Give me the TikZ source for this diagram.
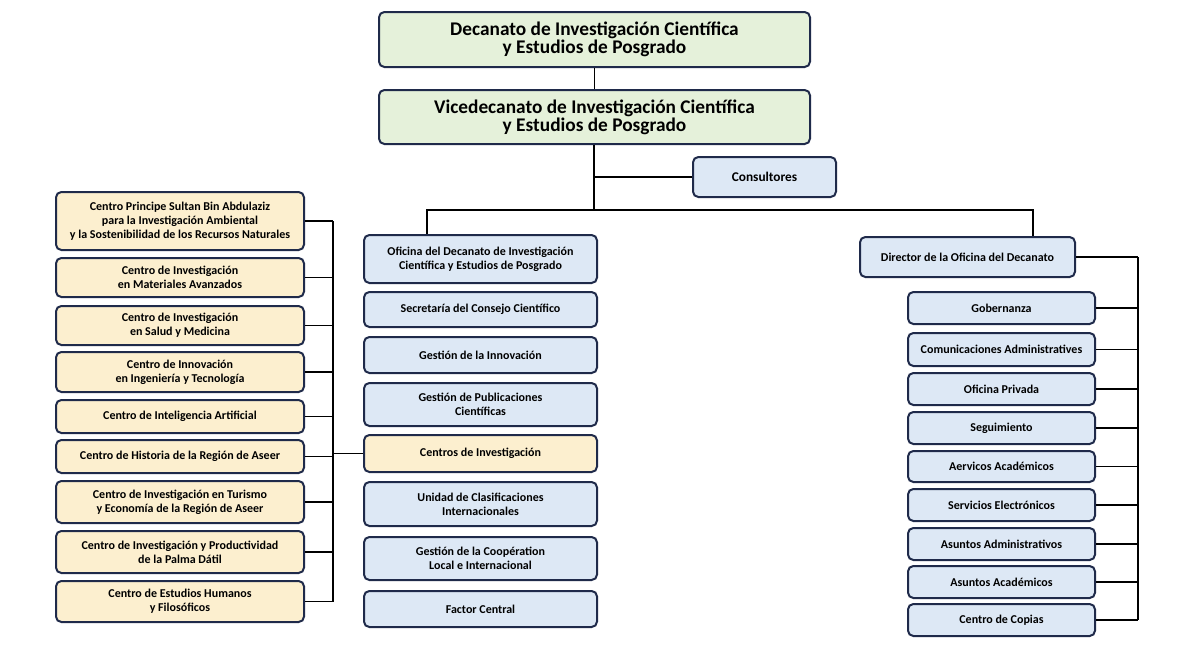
\documentclass[tikz,border=0pt]{standalone}
\usepackage{fontspec}
\setmainfont{Carlito}
\definecolor{bd}{HTML}{1F2A4A}
\definecolor{gr}{HTML}{E5F1DA}
\definecolor{bl}{HTML}{DDE8F5}
\definecolor{ye}{HTML}{FCEFCF}
\newcommand{\bx}[7]{%
  \pgfmathsetmacro{\cx}{(#2+#4)/2}\pgfmathsetmacro{\cy}{-(#3+#5)/2}%
  \pgfmathsetmacro{\ww}{(#4-#2)*0.75}\pgfmathsetmacro{\hh}{(#5-#3)*0.75}%
  \node[box,fill=#6,minimum width=\ww pt,minimum height=\hh pt] (#1) at (\cx,\cy) {#7};}
\begin{document}
\begin{tikzpicture}[x=0.75pt,y=0.75pt,
  box/.style={draw=bd,line width=1.5pt,rounded corners=4pt,inner sep=0pt,align=center,font=\bfseries\fontsize{9}{10.5}\selectfont,text=black},
  big/.style={font=\bfseries\fontsize{14.5}{17}\selectfont},
  ln/.style={line width=1.3pt,black}]
\useasboundingbox (0,0) rectangle (1200,-668);
\bx{dec}{379}{12}{810}{67}{gr}{\fontsize{14.5}{17}\selectfont Decanato de Investigación Científica\\\fontsize{14.5}{17}\selectfont y Estudios de Posgrado}
\bx{vice}{379}{90}{810}{144}{gr}{\fontsize{14.5}{17}\selectfont Vicedecanato de Investigación Científica\\\fontsize{14.5}{17}\selectfont y Estudios de Posgrado}
\bx{cons}{693}{157}{836}{197}{bl}{\fontsize{10}{12}\selectfont Consultores}
% middle
\bx{m1}{364}{235}{597}{283}{bl}{Oficina del Decanato de Investigación\\Científica y Estudios de Posgrado}
\bx{m2}{364}{292}{597}{327}{bl}{Secretaría del Consejo Científico}
\bx{m3}{364}{337}{597}{373}{bl}{Gestión de la Innovación}
\bx{m4}{364}{383}{597}{426}{bl}{Gestión de Publicaciones\\Científicas}
\bx{m5}{364}{435}{597}{472}{ye}{Centros de Investigación}
\bx{m6}{364}{482}{597}{526}{bl}{Unidad de Clasificaciones\\Internacionales}
\bx{m7}{364}{537}{597}{580}{bl}{Gestión de la Coopération\\Local e Internacional}
\bx{m8}{364}{591}{597}{627}{bl}{Factor Central}
% left
\bx{l1}{56}{192}{304}{250}{ye}{Centro Principe Sultan Bin Abdulaziz\\para la Investigación Ambiental\\y la Sostenibilidad de los Recursos Naturales}
\bx{l2}{56}{258}{304}{297}{ye}{Centro de Investigación\\en Materiales Avanzados}
\bx{l3}{56}{306}{304}{345}{ye}{Centro de Investigación\\en Salud y Medicina}
\bx{l4}{56}{352}{304}{392}{ye}{Centro de Innovación\\en Ingeniería y Tecnología}
\bx{l5}{56}{400}{304}{433}{ye}{Centro de Inteligencia Artificial}
\bx{l6}{56}{440}{304}{473}{ye}{Centro de Historia de la Región de Aseer}
\bx{l7}{56}{481}{304}{523}{ye}{Centro de Investigación en Turismo\\y Economía de la Región de Aseer}
\bx{l8}{56}{531}{304}{573}{ye}{Centro de Investigación y Productividad\\de la Palma Dátil}
\bx{l9}{56}{581}{304}{622}{ye}{Centro de Estudios Humanos\\y Filosóficos}
% right
\bx{dir}{860}{237}{1075}{277}{bl}{Director de la Oficina del Decanato}
\bx{r1}{908}{292}{1095}{324}{bl}{Gobernanza}
\bx{r2}{908}{333}{1095}{366}{bl}{Comunicaciones Administratives}
\bx{r3}{908}{373}{1095}{405}{bl}{Oficina Privada}
\bx{r4}{908}{412}{1095}{444}{bl}{Seguimiento}
\bx{r5}{908}{451}{1095}{482}{bl}{Aervicos Académicos}
\bx{r6}{908}{489}{1095}{521}{bl}{Servicios Electrónicos}
\bx{r7}{908}{528}{1095}{560}{bl}{Asuntos Administrativos}
\bx{r8}{908}{566}{1095}{598}{bl}{Asuntos Académicos}
\bx{r9}{908}{604}{1095}{636}{bl}{Centro de Copias}
% connectors
\coordinate (j) at (594,-210);
\coordinate (lb) at (333,0);
\coordinate (rb) at (1138,0);
\begin{scope}[on background layer/.style={}]
\draw[ln] (dec.south) -- (vice.north);
\draw[ln] (vice.south -| j) -- (j);
\draw[ln] (cons.west) -- (cons.west -| j);
\draw[ln] (m1.north -| 427,0) |- (j);
\draw[ln] (j) -| (dir.north -| 1033,0);
\draw[ln] (l1.east -| lb) -- (l9.east -| lb);
\foreach \i in {1,...,9} \draw[ln] (l\i.east) -- (l\i.east -| lb);
\draw[ln] (m5.west) -- (m5.west -| lb);
\draw[ln] (dir.east -| rb) -- (r9.east -| rb);
\draw[ln] (dir.east) -- (dir.east -| rb);
\foreach \i in {1,...,9} \draw[ln] (r\i.east) -- (r\i.east -| rb);
\end{scope}
\end{tikzpicture}
\end{document}
